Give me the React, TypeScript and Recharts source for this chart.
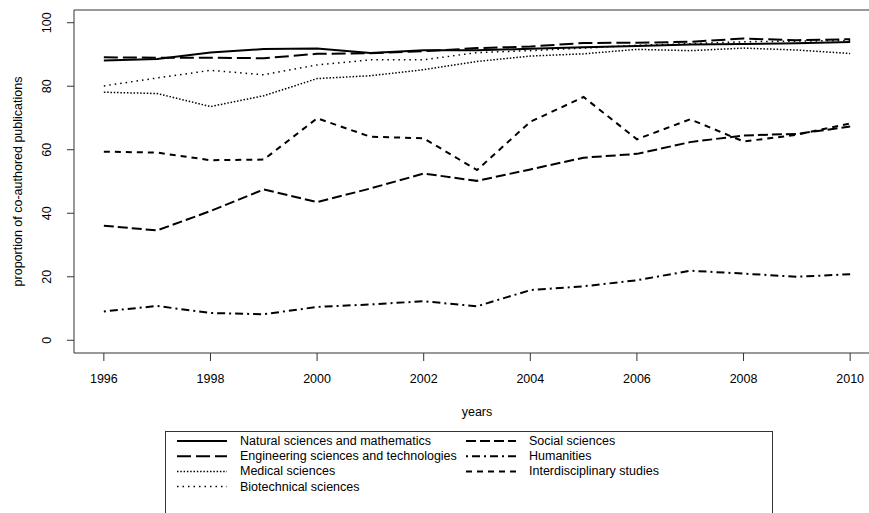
import React from "react";
import { LineChart, Line, XAxis, YAxis, ReferenceArea, Legend, Label } from "recharts";

const years = [1996, 1997, 1998, 1999, 2000, 2001, 2002, 2003, 2004, 2005, 2006, 2007, 2008, 2009, 2010];

const natural = [88.1, 88.6, 90.6, 91.7, 91.9, 90.5, 91.3, 91.3, 91.8, 92.3, 92.7, 93.1, 93.3, 93.5, 93.9];
const engineering = [89.1, 89.0, 89.0, 88.8, 90.2, 90.4, 91.0, 92.0, 92.5, 93.6, 93.7, 94.0, 95.0, 94.5, 94.8];
const medical = [78.1, 77.7, 73.6, 77.0, 82.4, 83.3, 85.2, 87.8, 89.5, 90.2, 91.6, 91.2, 92.0, 91.4, 90.3];
const biotechnical = [80.1, 82.6, 85.0, 83.6, 86.7, 88.3, 88.3, 90.6, 91.2, 92.0, 92.9, 93.4, 94.0, 94.2, 94.4];
const social = [36.1, 34.6, 40.7, 47.5, 43.5, 47.8, 52.5, 50.2, 53.8, 57.5, 58.7, 62.4, 64.5, 65.0, 67.3];
const humanities = [9.1, 10.8, 8.6, 8.2, 10.5, 11.3, 12.3, 10.7, 15.8, 17.0, 18.9, 21.9, 21.0, 20.0, 20.8];
const interdisciplinary = [59.4, 59.1, 56.7, 56.9, 69.9, 64.1, 63.6, 53.6, 68.8, 76.6, 63.3, 69.6, 62.6, 64.7, 68.3];

const xTicks = [1996, 1998, 2000, 2002, 2004, 2006, 2008, 2010];
const yTicks = [0, 20, 40, 60, 80, 100];

const FONT = "'Liberation Sans', Arial, sans-serif";
const FS = 12.5;

// legend order follows R's column-wise fill (4 rows, 2 columns)
const series = [
  { key: "natural", name: "Natural sciences and mathematics", dash: undefined, width: 2 },
  { key: "engineering", name: "Engineering sciences and technologies", dash: "14 5", width: 2 },
  { key: "medical", name: "Medical sciences", dash: "1.5 1.8", width: 1.5 },
  { key: "biotechnical", name: "Biotechnical sciences", dash: "1.5 4", width: 1.5 },
  { key: "social", name: "Social sciences", dash: "10 4", width: 2 },
  { key: "humanities", name: "Humanities", dash: "2 4 8 4", width: 2 },
  { key: "interdisciplinary", name: "Interdisciplinary studies", dash: "6 5", width: 2 },
];

const data = years.map((year, i) => ({
  year,
  natural: natural[i],
  engineering: engineering[i],
  medical: medical[i],
  biotechnical: biotechnical[i],
  social: social[i],
  humanities: humanities[i],
  interdisciplinary: interdisciplinary[i],
}));

const XTick = (props: any) => {
  const { x, y, payload } = props;
  return (
    <text x={x} y={y + 20} textAnchor="middle" fontSize={FS} fontFamily={FONT} fill="#000">
      {payload.value}
    </text>
  );
};

const YTick = (props: any) => {
  const { x, y, payload } = props;
  const cx = x - 18;
  return (
    <text
      x={cx}
      y={y}
      transform={`rotate(-90 ${cx} ${y})`}
      textAnchor="middle"
      dominantBaseline="central"
      fontSize={FS}
      fontFamily={FONT}
      fill="#000"
    >
      {payload.value}
    </text>
  );
};

const YTitle = (props: any) => {
  const vb = props.viewBox;
  const cx = vb.x + 18;
  const cy = vb.y + vb.height / 2;
  return (
    <text
      x={cx}
      y={cy}
      transform={`rotate(-90 ${cx} ${cy})`}
      textAnchor="middle"
      dominantBaseline="central"
      fontSize={FS}
      fontFamily={FONT}
      fill="#000"
    >
      proportion of co-authored publications
    </text>
  );
};

const XTitle = (props: any) => {
  const vb = props.viewBox;
  return (
    <text x={vb.x + vb.width / 2} y={vb.y + 63} textAnchor="middle" fontSize={FS} fontFamily={FONT} fill="#000">
      years
    </text>
  );
};

const LegendBox = () => (
  <svg width={640} height={90} style={{ display: "block" }}>
    <rect x={0.5} y={0.5} width={607} height={120} fill="#fff" stroke="#333" />
    {series.map((s, i) => {
      const col = i < 4 ? 0 : 1;
      const row = i < 4 ? i : i - 4;
      const cy = 10 + row * 15.2;
      const sx = col === 0 ? 12 : 301;
      return (
        <g key={s.key}>
          <line x1={sx} x2={sx + 50} y1={cy} y2={cy} stroke="#000" strokeWidth={s.width} strokeDasharray={s.dash} />
          <text x={sx + 63} y={cy} dominantBaseline="central" fontSize={FS} fontFamily={FONT} fill="#000">
            {s.name}
          </text>
        </g>
      );
    })}
  </svg>
);

export default function App() {
  return (
    <div
      style={{
        position: "absolute",
        left: 0,
        top: 0,
        width: 869,
        height: 513,
        overflow: "hidden",
        background: "#fff",
        fontFamily: FONT,
      }}
    >
      <LineChart width={900} height={513} data={data} margin={{ top: 10, right: 20, left: 0, bottom: 100 }}>
        <XAxis
          dataKey="year"
          type="number"
          domain={[1995.44, 2010.56]}
          allowDataOverflow
          ticks={xTicks}
          interval={0}
          height={60}
          tickSize={8}
          axisLine={false}
          tickLine={{ stroke: "#333" }}
          tick={<XTick />}
        >
          <Label content={<XTitle />} />
        </XAxis>
        <YAxis
          type="number"
          domain={[-4, 104]}
          allowDataOverflow
          ticks={yTicks}
          interval={0}
          width={74}
          tickSize={7}
          axisLine={false}
          tickLine={{ stroke: "#333" }}
          tick={<YTick />}
        >
          <Label content={<YTitle />} />
        </YAxis>
        <ReferenceArea
          x1={1995.44}
          x2={2010.56}
          y1={-4}
          y2={104}
          fill="none"
          stroke="#333"
          strokeWidth={1}
          ifOverflow="visible"
        />
        {series.map((s) => (
          <Line
            key={s.key}
            type="linear"
            dataKey={s.key}
            name={s.name}
            stroke="#000"
            strokeWidth={s.width}
            strokeDasharray={s.dash}
            dot={false}
            isAnimationActive={false}
          />
        ))}
        <Legend
          layout="horizontal"
          verticalAlign="middle"
          content={<LegendBox />}
          wrapperStyle={{ left: 165, top: 431, width: 640, height: 90 }}
        />
      </LineChart>
    </div>
  );
}
